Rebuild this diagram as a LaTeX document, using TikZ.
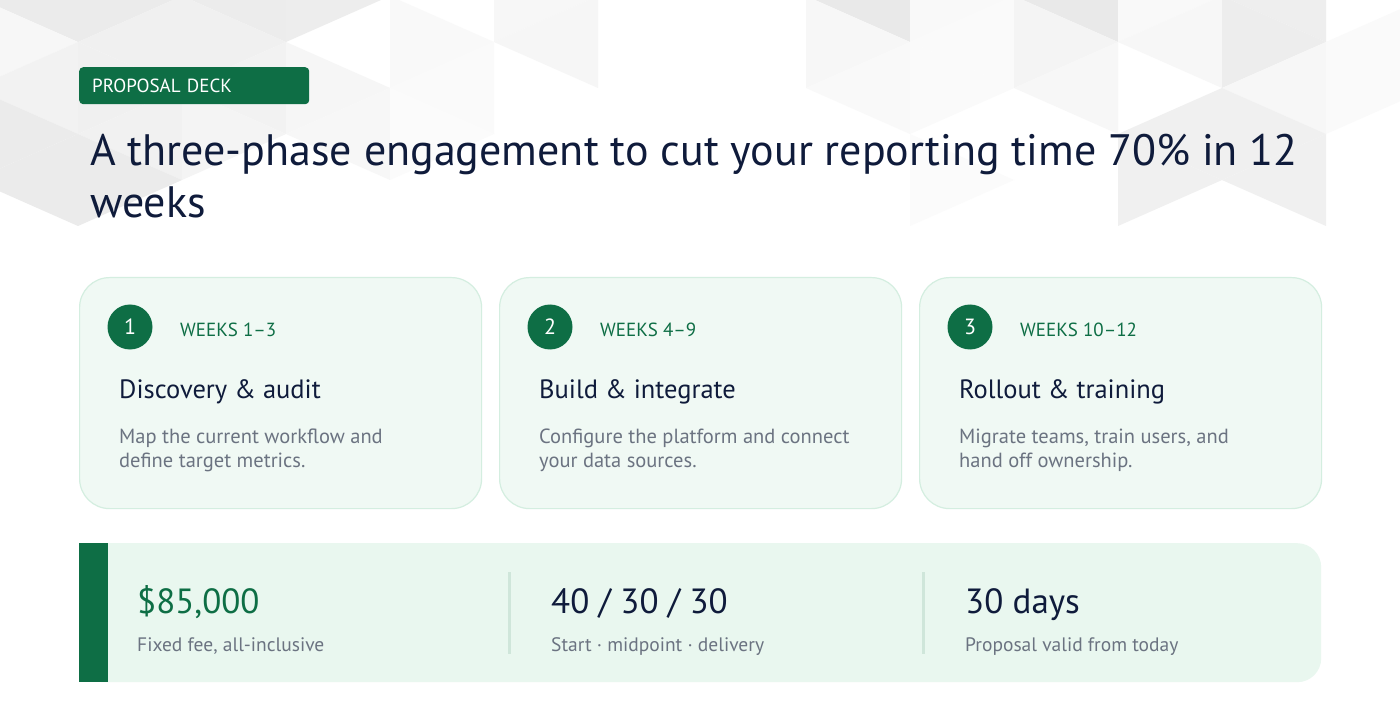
\documentclass[tikz,border=0pt]{standalone}
\usepackage{fontspec}
\setmainfont{PT Sans}
\usetikzlibrary{positioning}

\definecolor{deckgreen}{HTML}{0E6E45}
\definecolor{decknavy}{HTML}{0F1B3B}
\definecolor{deckgray}{HTML}{6B7381}
\definecolor{cardfill}{HTML}{F0F9F4}
\definecolor{cardline}{HTML}{D4EEE0}
\definecolor{barfill}{HTML}{E9F7EF}
\definecolor{barline}{HTML}{CFE6DA}

% background triangles: base on the left / base on the right
\newcommand{\trir}[3]{\fill[black!#3] (#1,#2) -- (#1,#2+92) -- (#1+104,#2+46) -- cycle;}
\newcommand{\tril}[3]{\fill[black!#3] (#1,#2) -- (#1,#2+92) -- (#1-104,#2+46) -- cycle;}

\tikzset{
	tagbox/.style={fill=deckgreen, rounded corners=4pt, text=white, minimum height=37pt, text width=204pt, inner xsep=13pt, inner ysep=0pt, font=\fontsize{19}{22}\selectfont},
	card/.style={draw=cardline, line width=1.2pt, fill=cardfill, rounded corners=30pt, minimum width=402pt, minimum height=231pt, inner sep=0pt},
	badge/.style={circle, fill=deckgreen, minimum size=45pt, inner sep=0pt, text=white, font=\fontsize{22}{26}\selectfont},
	weeks/.style={anchor=base west, inner sep=0pt, text=deckgreen, font=\fontsize{19}{22}\selectfont},
	phase/.style={anchor=base west, inner sep=0pt, text=decknavy, font=\fontsize{26.5}{32}\selectfont},
	desc/.style={anchor=base west, inner sep=0pt, align=left, text=deckgray, font=\fontsize{20.5}{24}\selectfont},
	statvalue/.style={anchor=base west, inner sep=0pt, text=decknavy, font=\fontsize{35}{40}\selectfont},
	statnote/.style={anchor=base west, inner sep=0pt, text=deckgray, font=\fontsize{19.5}{24}\selectfont},
	divider/.style={draw=barline, line width=3pt}
}

\begin{document}
\begin{tikzpicture}[x=1pt, y=-1pt]
		\useasboundingbox (0,0) rectangle (1400,719);
		\fill[white] (0,0) rectangle (1400,719);

		\begin{scope}
			\clip (0,0) rectangle (1400,719);
			\tril{78}{-50}{8}
			\trir{-26}{-4}{3}
			\tril{78}{42}{5}
			\trir{-26}{88}{8}
			\tril{78}{134}{8}
			\trir{78}{-50}{8}
			\tril{182}{-4}{6}
			\trir{78}{42}{6}
			\tril{182}{88}{5.5}
			\trir{78}{134}{8}
			\tril{286}{-50}{7.5}
			\trir{182}{-4}{6}
			\tril{286}{42}{5}
			\trir{182}{88}{4.5}
			\trir{286}{-50}{7}
			\trir{286}{42}{3.5}
			\tril{390}{88}{3}
			\trir{390}{-4}{2.5}
			\tril{494}{42}{2}
			\trir{390}{88}{1.5}
			\trir{494}{-50}{3}
			\tril{598}{-4}{3.5}

			\tril{910}{-50}{8.5}
			\trir{806}{-4}{3}
			\tril{910}{42}{2.5}
			\trir{910}{-50}{2.5}
			\tril{1014}{-4}{2}
			\trir{910}{42}{2}
			\trir{910}{134}{1.5}
			\tril{1118}{-50}{8.5}
			\trir{1014}{-4}{4.5}
			\tril{1118}{42}{3}
			\trir{1118}{-50}{2.5}
			\tril{1222}{-4}{3}
			\tril{1222}{88}{6}
			\trir{1118}{134}{6}
			\tril{1326}{-50}{6.5}
			\trir{1222}{-4}{7}
			\tril{1326}{42}{3}
			\trir{1222}{88}{6}
			\tril{1326}{134}{6}
			\tril{1430}{-4}{2}
			\trir{1326}{42}{2}
		\end{scope}

		\node (tag) [tagbox, anchor=north west] at (79,67) {PROPOSAL DECK};
		\node (title) [anchor=base west, inner sep=0pt, align=left, text=decknavy, font=\fontsize{44}{52}\selectfont] at (90,218) {A three-phase engagement to cut your reporting time 70\% in 12\\weeks};

		\node (card1) [card, anchor=north west] at (79,277) {};
		\node (card2) [card, anchor=north west] at (499,277) {};
		\node (card3) [card, anchor=north west] at (919,277) {};

		\node (num1) [badge] at (130,327) {1};
		\node (weeks1) [weeks] at (180,336) {WEEKS 1--3};
		\node (phase1) [phase] at (119,398) {Discovery \& audit};
		\node (desc1) [desc] at (119,467) {Map the current workflow and\\define target metrics.};

		\node (num2) [badge] at (550,327) {2};
		\node (weeks2) [weeks] at (600,336) {WEEKS 4--9};
		\node (phase2) [phase] at (539,398) {Build \& integrate};
		\node (desc2) [desc] at (539,467) {Configure the platform and connect\\your data sources.};

		\node (num3) [badge] at (970,327) {3};
		\node (weeks3) [weeks] at (1020,336) {WEEKS 10--12};
		\node (phase3) [phase] at (959,398) {Rollout \& training};
		\node (desc3) [desc] at (959,467) {Migrate teams, train users, and\\hand off ownership.};

		\node (bar) [fill=barfill, rounded corners=24pt, minimum width=1242pt, minimum height=139pt, inner sep=0pt, anchor=north west] at (79,543) {};
		\node (accent) [fill=deckgreen, minimum width=29pt, minimum height=139pt, inner sep=0pt, anchor=north west] at (79,543) {};
		\draw [divider] (509,572) -- (509,654);
		\draw [divider] (923,572) -- (923,654);

		\node (fee) [statvalue, text=deckgreen] at (137,613) {\$85,000};
		\node (feenote) [statnote] at (137,651) {Fixed fee, all-inclusive};
		\node (split) [statvalue] at (551,613) {40 / 30 / 30};
		\node (splitnote) [statnote] at (551,651) {Start · midpoint · delivery};
		\node (valid) [statvalue] at (965,613) {30 days};
		\node (validnote) [statnote] at (965,651) {Proposal valid from today};
\end{tikzpicture}
\end{document}
